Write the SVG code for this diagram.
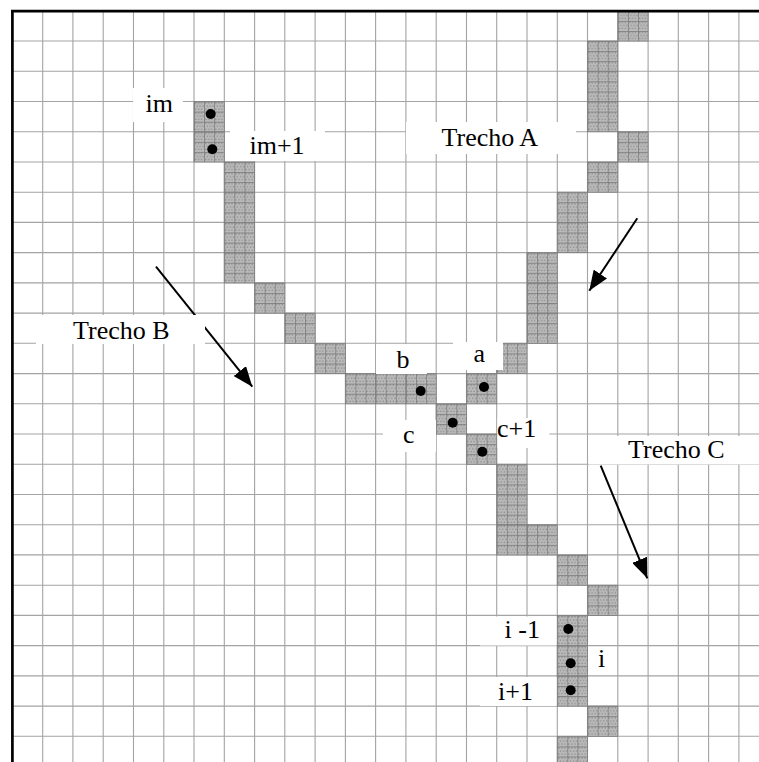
<svg xmlns="http://www.w3.org/2000/svg" width="759" height="762" viewBox="0 0 759 762">
<style>
.grid{stroke:#a4a4a4;stroke-width:1.1;fill:none}
.border{stroke:#000;stroke-width:2.7;fill:none}
.sh{fill:url(#halftone);stroke:#7e7e7e;stroke-width:0.8}
.dot{fill:#000}
.box{fill:#fff}
.lbl{font-family:"Liberation Serif","Times New Roman",serif;font-size:26px;fill:#000}
.arr{stroke:#000;stroke-width:2;fill:none;marker-end:url(#head)}
</style>
<defs>
<pattern id="halftone" patternUnits="userSpaceOnUse" x="12.4" y="10.8" width="10.09" height="10.077">
<rect width="10.09" height="10.077" fill="#bababa"/>
<g fill="#8c8c8c">
<rect x="1" y="1" width="1.3" height="1.3"/><rect x="4" y="1" width="1.3" height="1.3"/><rect x="7" y="1" width="1.3" height="1.3"/>
<rect x="2.5" y="4" width="1.3" height="1.3"/><rect x="5.5" y="4" width="1.3" height="1.3"/><rect x="8.5" y="4" width="1.3" height="1.3"/>
<rect x="1" y="7" width="1.3" height="1.3"/><rect x="4" y="7" width="1.3" height="1.3"/><rect x="7" y="7" width="1.3" height="1.3"/>
</g>
<path d="M0,0.4H10.09M0.4,0V10.077" stroke="#787878" stroke-width="0.8"/>
</pattern>
<marker id="head" markerUnits="userSpaceOnUse" markerWidth="21" markerHeight="16" refX="20" refY="8" orient="auto">
<path d="M0,0 L20,8 L0,16 z" fill="#000"/>
</marker>
</defs>
<rect width="759" height="762" fill="#fff"/>
<g id="grid">
<path class="grid" d="M42.7,10.8V762M72.9,10.8V762M103.2,10.8V762M133.5,10.8V762M163.8,10.8V762M194,10.8V762M224.3,10.8V762M254.6,10.8V762M284.8,10.8V762M315.1,10.8V762M345.4,10.8V762M375.6,10.8V762M405.9,10.8V762M436.2,10.8V762M466.5,10.8V762M496.7,10.8V762M527,10.8V762M557.3,10.8V762M587.5,10.8V762M617.8,10.8V762M648.1,10.8V762M678.3,10.8V762M708.6,10.8V762M738.9,10.8V762"/>
<path class="grid" d="M12.4,41H759M12.4,71.3H759M12.4,101.5H759M12.4,131.7H759M12.4,162H759M12.4,192.2H759M12.4,222.4H759M12.4,252.6H759M12.4,282.9H759M12.4,313.1H759M12.4,343.3H759M12.4,373.6H759M12.4,403.8H759M12.4,434H759M12.4,464.3H759M12.4,494.5H759M12.4,524.7H759M12.4,554.9H759M12.4,585.2H759M12.4,615.4H759M12.4,645.6H759M12.4,675.9H759M12.4,706.1H759M12.4,736.3H759"/>
</g>
<g id="cells">
<rect class="sh" x="617.8" y="10.8" width="30.27" height="30.23"/>
<rect class="sh" x="587.53" y="41.03" width="30.27" height="30.23"/>
<rect class="sh" x="587.53" y="71.26" width="30.27" height="30.23"/>
<rect class="sh" x="587.53" y="101.49" width="30.27" height="30.23"/>
<rect class="sh" x="617.8" y="131.72" width="30.27" height="30.23"/>
<rect class="sh" x="587.53" y="161.95" width="30.27" height="30.23"/>
<rect class="sh" x="557.26" y="192.18" width="30.27" height="30.23"/>
<rect class="sh" x="557.26" y="222.41" width="30.27" height="30.23"/>
<rect class="sh" x="526.99" y="252.64" width="30.27" height="30.23"/>
<rect class="sh" x="526.99" y="282.87" width="30.27" height="30.23"/>
<rect class="sh" x="526.99" y="313.1" width="30.27" height="30.23"/>
<rect class="sh" x="496.72" y="343.33" width="30.27" height="30.23"/>
<rect class="sh" x="466.45" y="373.56" width="30.27" height="30.23"/>
<rect class="sh" x="194.02" y="101.49" width="30.27" height="30.23"/>
<rect class="sh" x="194.02" y="131.72" width="30.27" height="30.23"/>
<rect class="sh" x="224.29" y="161.95" width="30.27" height="30.23"/>
<rect class="sh" x="224.29" y="192.18" width="30.27" height="30.23"/>
<rect class="sh" x="224.29" y="222.41" width="30.27" height="30.23"/>
<rect class="sh" x="224.29" y="252.64" width="30.27" height="30.23"/>
<rect class="sh" x="254.56" y="282.87" width="30.27" height="30.23"/>
<rect class="sh" x="284.83" y="313.1" width="30.27" height="30.23"/>
<rect class="sh" x="315.1" y="343.33" width="30.27" height="30.23"/>
<rect class="sh" x="345.37" y="373.56" width="30.27" height="30.23"/>
<rect class="sh" x="375.64" y="373.56" width="30.27" height="30.23"/>
<rect class="sh" x="405.91" y="373.56" width="30.27" height="30.23"/>
<rect class="sh" x="436.18" y="403.79" width="30.27" height="30.23"/>
<rect class="sh" x="466.45" y="434.02" width="30.27" height="30.23"/>
<rect class="sh" x="496.72" y="464.25" width="30.27" height="30.23"/>
<rect class="sh" x="496.72" y="494.48" width="30.27" height="30.23"/>
<rect class="sh" x="496.72" y="524.71" width="30.27" height="30.23"/>
<rect class="sh" x="526.99" y="524.71" width="30.27" height="30.23"/>
<rect class="sh" x="557.26" y="554.94" width="30.27" height="30.23"/>
<rect class="sh" x="587.53" y="585.17" width="30.27" height="30.23"/>
<rect class="sh" x="557.26" y="615.4" width="30.27" height="30.23"/>
<rect class="sh" x="557.26" y="645.63" width="30.27" height="30.23"/>
<rect class="sh" x="557.26" y="675.86" width="30.27" height="30.23"/>
<rect class="sh" x="587.53" y="706.09" width="30.27" height="30.23"/>
<rect class="sh" x="557.26" y="736.32" width="30.27" height="30.23"/>
</g>
<g id="connectors">
<line class="arr" x1="637.3" y1="218.3" x2="589.3" y2="290.7"/>
<line class="arr" x1="156" y1="266.7" x2="252.3" y2="386.7"/>
<line class="arr" x1="600.7" y1="465.7" x2="647.3" y2="578.3"/>
</g>
<g id="label-boxes">
<rect class="box" x="133" y="88" width="50" height="34"/>
<rect class="box" x="230" y="131" width="95" height="30"/>
<rect class="box" x="406" y="122" width="170" height="32"/>
<rect class="box" x="36" y="315" width="169" height="29"/>
<rect class="box" x="588.5" y="436" width="171" height="28.5"/>
<rect class="box" x="453" y="342" width="50" height="28"/>
<rect class="box" x="376" y="344" width="51" height="30"/>
<rect class="box" x="383" y="420" width="53" height="32"/>
<rect class="box" x="497.5" y="418" width="52" height="30"/>
<rect class="box" x="480" y="616.5" width="76.5" height="29"/>
<rect class="box" x="588.5" y="647" width="28.5" height="28"/>
<rect class="box" x="480" y="677" width="76.5" height="29"/>
</g>
<g id="borders">
<path class="border" d="M11,11.2H759"/>
<path class="border" d="M12.4,10V762"/>
</g>
<g id="dots">
<circle class="dot" cx="210.7" cy="114" r="5"/>
<circle class="dot" cx="212.3" cy="149.3" r="5"/>
<circle class="dot" cx="420.7" cy="391" r="5"/>
<circle class="dot" cx="484" cy="387" r="5"/>
<circle class="dot" cx="452.7" cy="422.7" r="5"/>
<circle class="dot" cx="482.3" cy="451.7" r="5"/>
<circle class="dot" cx="568.3" cy="629" r="5"/>
<circle class="dot" cx="570.7" cy="663.3" r="5"/>
<circle class="dot" cx="570.7" cy="690.3" r="5"/>
</g>
<g id="node-im"><text class="lbl" x="145.5" y="112.3">im</text></g>
<g id="node-im1"><text class="lbl" x="249.5" y="154">im+1</text></g>
<g id="node-trechoA"><text class="lbl" x="441.5" y="146">Trecho A</text></g>
<g id="node-trechoB"><text class="lbl" x="73" y="339.3">Trecho B</text></g>
<g id="node-trechoC"><text class="lbl" x="628" y="457.7">Trecho C</text></g>
<g id="node-a"><text class="lbl" x="473.5" y="362.3">a</text></g>
<g id="node-b"><text class="lbl" x="396.5" y="367.7">b</text></g>
<g id="node-c"><text class="lbl" x="403" y="443.3">c</text></g>
<g id="node-c1"><text class="lbl" x="497" y="437">c+1</text></g>
<g id="node-im1-i"><text class="lbl" x="504.5" y="637.7">i -1</text></g>
<g id="node-i"><text class="lbl" x="598" y="666.7">i</text></g>
<g id="node-ip1"><text class="lbl" x="498" y="700">i+1</text></g>
</svg>
